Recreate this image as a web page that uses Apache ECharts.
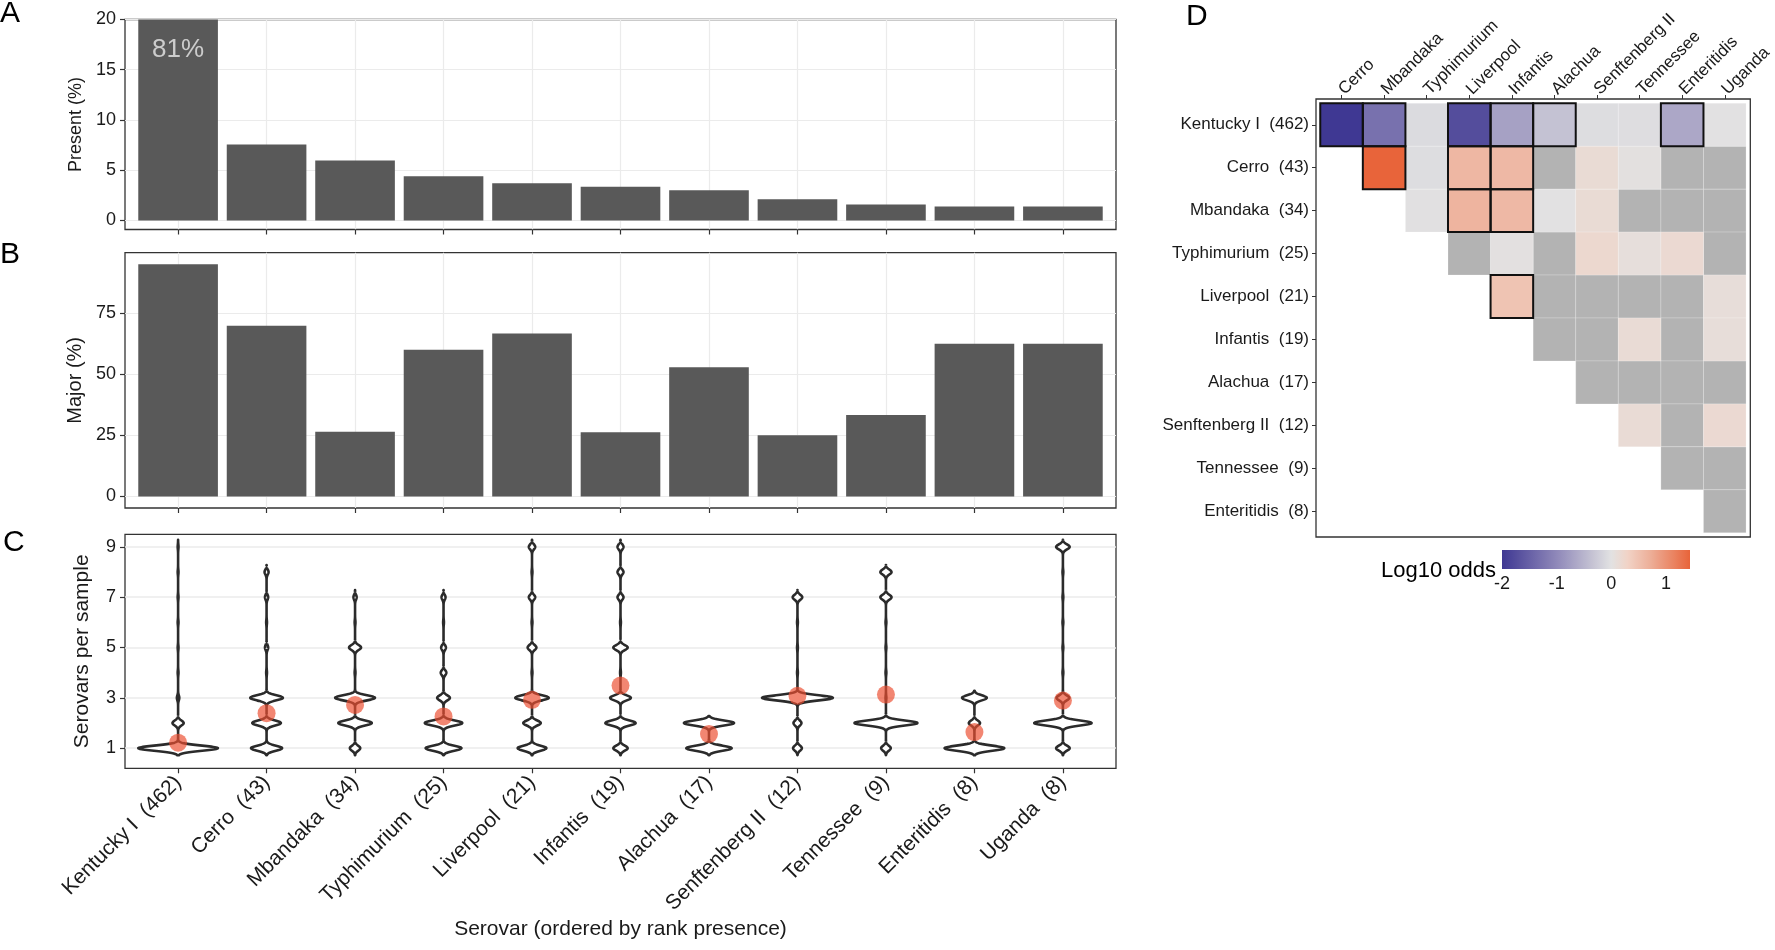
<!DOCTYPE html>
<html>
<head>
<meta charset="utf-8">
<title>Serovar co-occurrence</title>
<script src="https://cdn.jsdelivr.net/npm/echarts@6/dist/echarts.min.js"></script>
<style>
  html, body { margin: 0; padding: 0; background: #fff; }
  #chart { width: 1775px; height: 950px; }
</style>
</head>
<body>
<div id="chart"></div>
<script>
// ---- data ----
var serovars = ["Kentucky I", "Cerro", "Mbandaka", "Typhimurium", "Liverpool", "Infantis",
  "Alachua", "Senftenberg II", "Tennessee", "Enteritidis", "Uganda"];
var sampleCounts = [462, 43, 34, 25, 21, 19, 17, 12, 9, 8, 8];

// panel A
var presentPct = [81, 7.55, 5.97, 4.4, 3.7, 3.35, 3.0, 2.12, 1.6, 1.4, 1.4];
var presentTicks = [0, 5, 10, 15, 20];

// panel B
var majorPct = [95, 69.8, 26.5, 60, 66.7, 26.3, 52.9, 25, 33.3, 62.5, 62.5];
var majorTicks = [0, 25, 50, 75];

// panel C: relative violin width at each number of serovars per sample
var perSampleLevels = [1, 2, 3, 4, 5, 6, 7, 8, 9];
var perSampleDensity = [
  [1.00, 0.14, 0.03, 0.01, 0.01, 0.01, 0.01, 0.01, 0.01],
  [0.39, 0.36, 0.41, 0.01, 0.04, 0.01, 0.04, 0.05, 0],
  [0.13, 0.42, 0.50, 0.01, 0.15, 0.01, 0.04, 0, 0],
  [0.45, 0.47, 0.16, 0.07, 0.06, 0.01, 0.05, 0, 0],
  [0.36, 0.22, 0.42, 0.01, 0.11, 0.01, 0.08, 0.01, 0.08],
  [0.18, 0.38, 0.26, 0.01, 0.18, 0.01, 0.075, 0.075, 0.075],
  [0.57, 0.63, 0, 0, 0, 0, 0, 0, 0],
  [0.11, 0.10, 0.89, 0.01, 0.01, 0.01, 0.12, 0, 0],
  [0.12, 0.79, 0.01, 0.01, 0.01, 0.01, 0.14, 0.14, 0],
  [0.75, 0.14, 0.31, 0, 0, 0, 0, 0, 0],
  [0.17, 0.72, 0.16, 0.01, 0.01, 0.01, 0.01, 0.01, 0.17]
];
var perSampleMean = [1.22, 2.39, 2.72, 2.26, 2.92, 3.49, 1.56, 3.08, 3.13, 1.64, 2.89];
var perSampleTicks = [1, 3, 5, 7, 9];

// panel D: log10 odds of co-occurrence (null = not tested, "NA" = grey)
var pairRows = serovars.slice(0, 10);
var pairCols = serovars.slice(1);
var logOdds = [
  [-2.0, -1.29, -0.08, -1.74, -0.72, -0.36, -0.06, -0.05, -0.66, 0.0],
  [null, 1.44, -0.06, 0.62, 0.6, "NA", 0.15, 0.03, "NA", "NA"],
  [null, null, -0.02, 0.65, 0.6, 0.0, 0.15, "NA", "NA", "NA"],
  [null, null, null, "NA", 0.02, "NA", 0.2, 0.07, 0.17, "NA"],
  [null, null, null, null, 0.47, "NA", "NA", "NA", "NA", 0.1],
  [null, null, null, null, null, "NA", "NA", 0.14, "NA", 0.1],
  [null, null, null, null, null, null, "NA", "NA", "NA", "NA"],
  [null, null, null, null, null, null, null, 0.14, "NA", 0.17],
  [null, null, null, null, null, null, null, null, "NA", "NA"],
  [null, null, null, null, null, null, null, null, null, "NA"]
];
var significant = [
  [1, 1, 0, 1, 1, 1, 0, 0, 1, 0],
  [0, 1, 0, 1, 1, 0, 0, 0, 0, 0],
  [0, 0, 0, 1, 1, 0, 0, 0, 0, 0],
  [0, 0, 0, 0, 0, 0, 0, 0, 0, 0],
  [0, 0, 0, 0, 1, 0, 0, 0, 0, 0],
  [0, 0, 0, 0, 0, 0, 0, 0, 0, 0],
  [0, 0, 0, 0, 0, 0, 0, 0, 0, 0],
  [0, 0, 0, 0, 0, 0, 0, 0, 0, 0],
  [0, 0, 0, 0, 0, 0, 0, 0, 0, 0],
  [0, 0, 0, 0, 0, 0, 0, 0, 0, 0]
];
var oddsTicks = [-2, -1, 0, 1];
var oddsMin = -2, oddsMax = 1.44;

// ---- styling helpers ----
var font = "Liberation Sans, Arial, Helvetica, sans-serif";
var frameColor = "#333";
var gridColor = "#ebebeb";
var textColor = "#1a1a1a";

// piecewise colour ramp for the odds (blue - grey - orange)
var oddsColorStops = [[-2, "#3f3893"], [-1, "#8f88b9"], [0, "#e2e2e2"],
  [0.3, "#f1d3c6"], [0.7, "#edb09a"], [1.44, "#e8643a"]];

function hexToRgb(h) {
  return [parseInt(h.substr(1, 2), 16), parseInt(h.substr(3, 2), 16), parseInt(h.substr(5, 2), 16)];
}
function rampColor(v) {
  for (var i = 0; i < oddsColorStops.length - 1; i++) {
    var a = oddsColorStops[i], b = oddsColorStops[i + 1];
    if (v <= b[0] || i === oddsColorStops.length - 2) {
      var t = Math.max(0, Math.min(1, (v - a[0]) / (b[0] - a[0])));
      var ca = hexToRgb(a[1]), cb = hexToRgb(b[1]);
      return "rgb(" + ca.map(function (x, k) { return Math.round(x + (cb[k] - x) * t); }).join(",") + ")";
    }
  }
}
var oddsColors = [];
for (var n = 0; n < 70; n++) {
  oddsColors.push(rampColor(oddsMin + (oddsMax - oddsMin) * n / 69));
}

// ---- build series data ----
var catIdx = serovars.map(function (s, i) { return i; });
var pairIdx = pairCols.map(function (s, i) { return i; });
var presentData = presentPct.map(function (v, i) { return [i, v]; });
var majorData = majorPct.map(function (v, i) { return [i, v]; });
var meanData = perSampleMean.map(function (v, i) { return [i, v]; });

var heatData = [], naData = [], sigData = [];
for (var r = 0; r < logOdds.length; r++) {
  for (var c = 0; c < logOdds[r].length; c++) {
    var v = logOdds[r][c];
    if (v === null) continue;
    if (v === "NA") naData.push([c, r]);
    else heatData.push([c, r, v]);
    if (significant[r][c]) sigData.push([c, r]);
  }
}

// ---- render helpers ----
var bw = 0.1, cut = 0.28;
function renderViolin(params, api) {
  var i = params.dataIndex;
  var dens = perSampleDensity[i];
  var lo = null, hi = null;
  for (var k = 0; k < dens.length; k++) {
    if (dens[k] > 0) { if (lo === null) lo = perSampleLevels[k]; hi = perSampleLevels[k]; }
  }
  var right = [], left = [];
  for (var y = lo - cut; y <= hi + cut + 1e-9; y += 0.01) {
    var d = 0;
    for (var k2 = 0; k2 < dens.length; k2++) {
      if (dens[k2] > 0) d += dens[k2] * Math.exp(-0.5 * Math.pow((y - perSampleLevels[k2]) / bw, 2));
    }
    var half = d * 0.45;
    right.push(api.coord([i + half, y]));
    left.unshift(api.coord([i - half, y]));
  }
  return {
    type: "polygon",
    shape: { points: right.concat(left) },
    style: { fill: "#fff", stroke: "#2b2b2b", lineWidth: 2.6, lineJoin: "round" }
  };
}

function cellRect(api, c, r) {
  var p0 = api.coord([c - 0.5, r - 0.5]);
  var p1 = api.coord([c + 0.5, r + 0.5]);
  return {
    x: Math.min(p0[0], p1[0]), y: Math.min(p0[1], p1[1]),
    width: Math.abs(p1[0] - p0[0]), height: Math.abs(p1[1] - p0[1])
  };
}

var noLine = { show: false, onZero: false };

function valueAxisX(grid, showSplit) {
  return {
    gridIndex: grid, type: "value", min: -0.6, max: 10.6,
    axisLine: noLine,
    axisTick: { show: true, length: 5, lineStyle: { color: frameColor, width: 1.2 }, customValues: catIdx },
    axisLabel: { show: false, customValues: catIdx },
    splitLine: { show: showSplit, lineStyle: { color: gridColor, width: 1.2 }, customValues: catIdx }
  };
}
function valueAxisY(grid, min, max, ticks, name, nameSize, nameGap) {
  return {
    gridIndex: grid, type: "value", min: min, max: max,
    name: name, nameLocation: "middle", nameGap: nameGap,
    nameTextStyle: { fontFamily: font, fontSize: nameSize, color: textColor },
    axisLine: noLine,
    axisTick: { show: true, length: 5, lineStyle: { color: frameColor, width: 1.2 }, customValues: ticks },
    axisLabel: { customValues: ticks, margin: 9, fontFamily: font, fontSize: 18, color: textColor },
    splitLine: { show: true, lineStyle: { color: gridColor, width: 1.2 }, customValues: ticks }
  };
}

var panelBox = { left: 125, width: 991, show: true, borderColor: frameColor, borderWidth: 1.3, backgroundColor: "#fff" };
var bandPx = 991 / 11.2;

var xAxes = [
  valueAxisX(0, true),
  valueAxisX(1, true),
  (function () {
    var ax = valueAxisX(2, false);
    ax.axisLabel = {
      show: true, customValues: catIdx, rotate: 45, margin: 11,
      fontFamily: font, fontSize: 21, color: textColor,
      formatter: function (v) { var i = Math.round(v); return serovars[i] + "  (" + sampleCounts[i] + ")"; }
    };
    ax.name = "Serovar (ordered by rank presence)";
    ax.nameLocation = "middle";
    ax.nameGap = 150;
    ax.nameTextStyle = { fontFamily: font, fontSize: 21, color: textColor };
    return ax;
  })(),
  {
    gridIndex: 3, type: "value", position: "top", min: -0.6, max: 9.6,
    axisLine: noLine,
    axisTick: { show: true, length: 4, lineStyle: { color: frameColor }, customValues: pairIdx },
    axisLabel: {
      customValues: pairIdx, rotate: -45, margin: 7,
      fontFamily: font, fontSize: 17, color: textColor,
      formatter: function (v) { return pairCols[Math.round(v)]; }
    },
    splitLine: { show: false }
  },
  {
    gridIndex: 4, type: "value", min: oddsMin, max: oddsMax,
    axisLine: noLine,
    axisTick: { show: true, inside: true, length: 4, lineStyle: { color: "#fff", width: 1 }, customValues: oddsTicks },
    axisLabel: { customValues: oddsTicks, margin: 6, fontFamily: font, fontSize: 18, color: textColor },
    splitLine: { show: false }
  },
  {
    gridIndex: 4, type: "value", position: "top", min: oddsMin, max: oddsMax,
    axisLine: noLine,
    axisTick: { show: true, inside: true, length: 4, lineStyle: { color: "#fff", width: 1 }, customValues: oddsTicks },
    axisLabel: { show: false, customValues: oddsTicks },
    splitLine: { show: false }
  }
];

var yAxes = [
  valueAxisY(0, -0.9, 20, presentTicks, "Present (%)", 18, 40),
  valueAxisY(1, -4.75, 99.75, majorTicks, "Major (%)", 20, 38),
  (function () {
    var ax = valueAxisY(2, 0.2, 9.5, perSampleTicks, "Serovars per sample", 21, 32);
    ax.splitLine.lineStyle = { color: gridColor, width: 1.6 };
    return ax;
  })(),
  {
    gridIndex: 3, type: "value", inverse: true, min: -0.6, max: 9.6,
    axisLine: noLine,
    axisTick: { show: true, length: 4, lineStyle: { color: frameColor }, customValues: pairIdx },
    axisLabel: {
      customValues: pairIdx, margin: 7,
      fontFamily: font, fontSize: 17, color: textColor,
      formatter: function (v) { var i = Math.round(v); return pairRows[i] + "  (" + sampleCounts[i] + ")"; }
    },
    splitLine: { show: false }
  },
  { gridIndex: 4, type: "value", min: 0, max: 1, show: false, axisLine: noLine }
];

var series = [
  {
    type: "bar", xAxisIndex: 0, yAxisIndex: 0, data: presentData,
    barWidth: bandPx * 0.9, itemStyle: { color: "#595959" }, clip: true, z: 2
  },
  {
    type: "scatter", xAxisIndex: 0, yAxisIndex: 0, data: [[0, 17]],
    symbolSize: 0, silent: true, z: 4,
    label: {
      show: true, position: "inside", fontFamily: font, fontSize: 26, color: "#e8e8e8",
      formatter: function () { return Math.round(presentPct[0]) + "%"; }
    }
  },
  {
    type: "bar", xAxisIndex: 1, yAxisIndex: 1, data: majorData,
    barWidth: bandPx * 0.9, itemStyle: { color: "#595959" }, clip: true, z: 2
  },
  {
    type: "custom", xAxisIndex: 2, yAxisIndex: 2, data: meanData,
    renderItem: renderViolin, clip: true, z: 2
  },
  {
    type: "scatter", xAxisIndex: 2, yAxisIndex: 2, data: meanData,
    symbolSize: 18, itemStyle: { color: "rgba(236,78,48,0.85)" }, z: 4
  },
  {
    type: "custom", xAxisIndex: 3, yAxisIndex: 3, data: naData, z: 2,
    renderItem: function (params, api) {
      return { type: "rect", shape: cellRect(api, api.value(0), api.value(1)),
        style: { fill: "#b3b3b3", stroke: "rgba(255,255,255,0.35)", lineWidth: 0.6 } };
    }
  },
  {
    type: "custom", xAxisIndex: 3, yAxisIndex: 3, data: heatData, z: 2,
    renderItem: function (params, api) {
      return { type: "rect", shape: cellRect(api, api.value(0), api.value(1)),
        style: { fill: api.visual("color"), stroke: "rgba(255,255,255,0.35)", lineWidth: 0.6 } };
    }
  },
  {
    type: "custom", xAxisIndex: 3, yAxisIndex: 3, data: sigData, z: 3,
    renderItem: function (params, api) {
      return { type: "rect", shape: cellRect(api, api.value(0), api.value(1)),
        style: { fill: "none", stroke: "#111", lineWidth: 2 } };
    }
  },
  {
    type: "custom", xAxisIndex: 4, yAxisIndex: 4, data: [[oddsMin, oddsMax]], z: 2,
    renderItem: function (params, api) {
      var p0 = api.coord([api.value(0), 0]);
      var p1 = api.coord([api.value(1), 1]);
      return {
        type: "rect",
        shape: { x: p0[0], y: p1[1], width: p1[0] - p0[0], height: p0[1] - p1[1] },
        style: {
          fill: new echarts.graphic.LinearGradient(0, 0, 1, 0, oddsColors.map(function (col, k) {
            return { offset: k / (oddsColors.length - 1), color: col };
          }))
        }
      };
    }
  }
];

function letter(t, x, y) {
  return { type: "text", x: x, y: y, style: { text: t, fontFamily: font, fontSize: 30, fill: "#000",
    align: "left", verticalAlign: "middle", textAlign: "left", textVerticalAlign: "middle" } };
}

var option = {
  animation: false,
  backgroundColor: "#fff",
  grid: [
    Object.assign({ top: 19.5, height: 210 }, panelBox),
    Object.assign({ top: 252.7, height: 255.3 }, panelBox),
    Object.assign({ top: 534.3, height: 234 }, panelBox),
    { left: 1316, top: 99, width: 439, height: 438, show: true, borderColor: frameColor, borderWidth: 1.3, backgroundColor: "#fff" },
    { left: 1502, top: 550, width: 188, height: 19, show: false }
  ],
  xAxis: xAxes,
  yAxis: yAxes,
  visualMap: {
    show: false, type: "continuous", min: oddsMin, max: oddsMax, dimension: 2,
    seriesIndex: 6, inRange: { color: oddsColors }
  },
  graphic: [
    letter("A", 0, 14),
    letter("B", 0, 255),
    letter("C", 3, 543),
    letter("D", 1186, 17),
    { type: "text", x: 1496, y: 571, style: { text: "Log10 odds", fontFamily: font, fontSize: 22, fill: "#000",
      align: "right", verticalAlign: "middle", textAlign: "right", textVerticalAlign: "middle" } }
  ],
  series: series
};

var chart = echarts.init(document.getElementById("chart"));
chart.setOption(option);
</script>
</body>
</html>
